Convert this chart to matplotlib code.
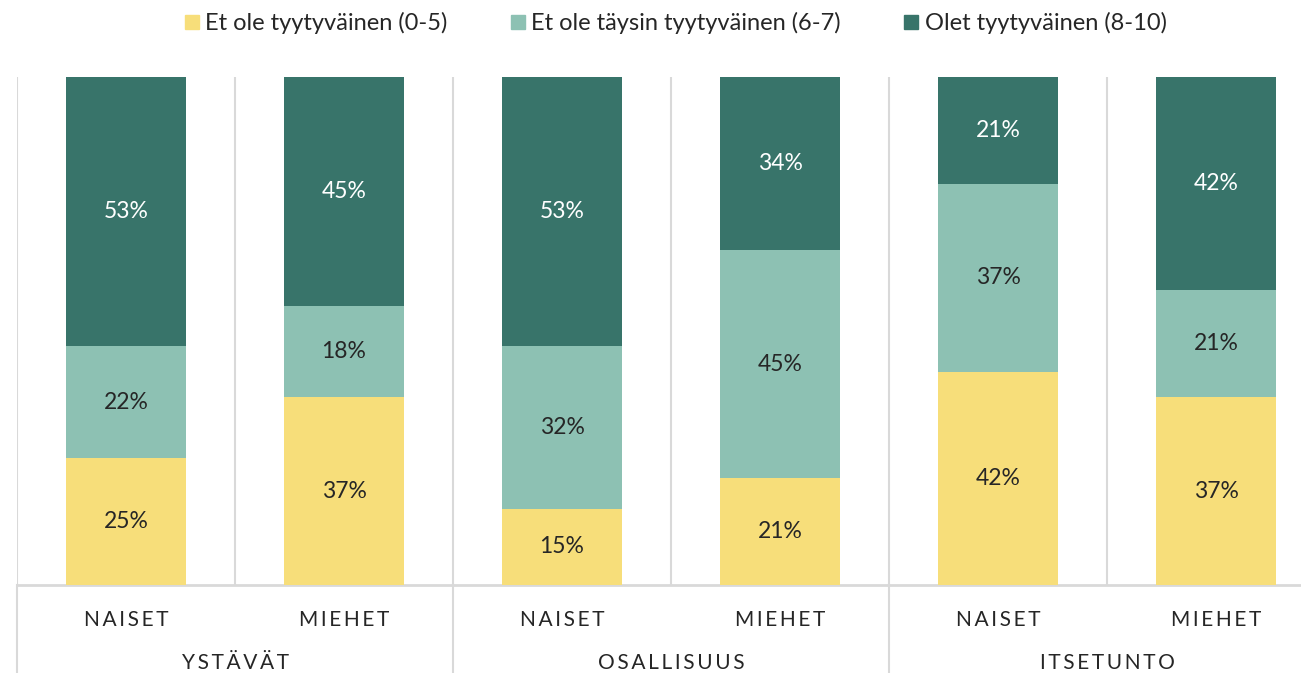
import matplotlib.pyplot as plt
from matplotlib.lines import Line2D
import numpy as np

# Data
groups = ['YSTÄVÄT', 'OSALLISUUS', 'ITSETUNTO']
genders = ['NAISET', 'MIEHET']
series_names = ['Et ole tyytyväinen (0-5)',
                'Et ole täysin tyytyväinen (6-7)',
                'Olet tyytyväinen (8-10)']
low = [25, 37, 15, 21, 42, 37]
mid = [22, 18, 32, 45, 37, 21]
high = [53, 45, 53, 34, 21, 42]

colors = ['#F7DE7A', '#8DC1B3', '#38746A']
text_colors = ['#262626', '#262626', '#FFFFFF']
grid_color = '#D9D9D9'

plt.rcParams['font.family'] = ['Lato', 'DejaVu Sans']


def spaced(s):
    # imitate the letter spacing of the axis labels
    return '\u2009'.join(s)


fig = plt.figure(figsize=(13.01, 6.73), dpi=100)
W, H = 1301, 673
ax = fig.add_axes([17 / W, 88 / H, (W - 17) / W, 508 / H])

x = np.arange(len(low))
values = [low, mid, high]
bottom = np.zeros(len(low))
for vals, col, tcol in zip(values, colors, text_colors):
    bars = ax.bar(x, vals, width=0.555, bottom=bottom, color=col, zorder=3)
    ax.bar_label(bars, labels=[f'{v}%' for v in vals], label_type='center',
                 color=tcol, fontsize=16.5)
    bottom += np.array(vals)

# category separators
ax.set_xticks(np.arange(-0.5, len(low) - 1, 1), minor=True)
ax.grid(which='minor', axis='x', color=grid_color, lw=1.5, zorder=0)
ax.tick_params(which='both', length=0)

ax.set_xticks(x)
ax.set_xticklabels([spaced(genders[i % 2]) for i in x], fontsize=15,
                   color='#262626')
ax.tick_params(axis='x', pad=18)

ax.set_xlim(-0.5, -0.5 + (W - 17) / 218)
ax.set_ylim(0, 100)
ax.set_yticks([])

for side in ['top', 'right', 'left']:
    ax.spines[side].set_visible(False)
ax.spines['bottom'].set_color(grid_color)
ax.spines['bottom'].set_linewidth(2)

# group separators reaching below the axis
for gx in [-0.5, 1.5, 3.5]:
    ax.plot([gx, gx], [0, -0.2], transform=ax.get_xaxis_transform(),
            clip_on=False, color=grid_color, lw=1.5)

# group labels
for i, g in enumerate(groups):
    ax.text(2 * i + 0.5, -78 / 508, spaced(g), transform=ax.get_xaxis_transform(),
            ha='center', va='center', fontsize=15, color='#262626')

handles = [Line2D([], [], marker='s', ls='none', markersize=10,
                  markerfacecolor=c, markeredgecolor=c) for c in colors]
fig.legend(handles, series_names, loc='center', ncol=3,
           bbox_to_anchor=(676 / W, 1 - 23 / H), frameon=False,
           fontsize=17, handlelength=0.55, handletextpad=0.3,
           columnspacing=2.7, labelcolor='#262626')

fig.savefig('out.png', dpi=100)
